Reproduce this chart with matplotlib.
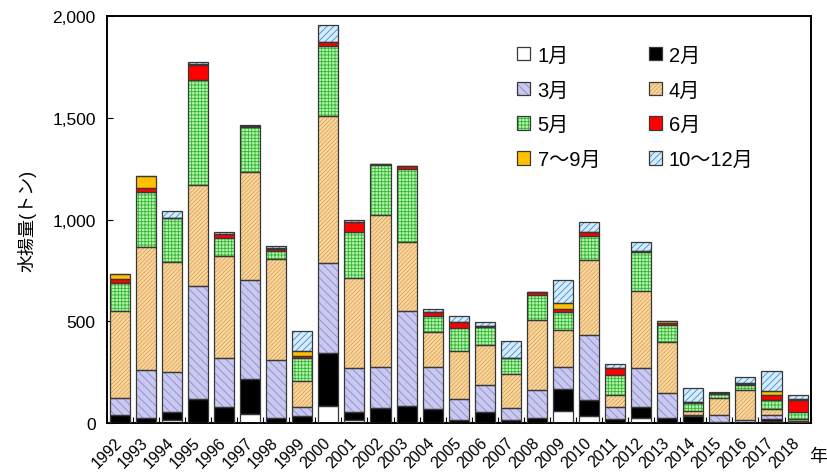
#!/usr/bin/env python3

# 年別・月別の水揚量（積み上げ棒グラフ）

import numpy as np
import matplotlib
matplotlib.use('Agg')
import matplotlib.pyplot as plt
from matplotlib.patches import Patch

plt.rcParams['font.family'] = ['Liberation Sans', 'Noto Sans CJK JP']
plt.rcParams['hatch.linewidth'] = 0.6

years = [str(y) for y in range(1992, 2019)]

jan = [0, 0, 13, 0, 0, 43, 0, 0, 85, 13, 0, 0, 0, 0, 0, 0, 0, 61, 33, 0, 23, 0, 0, 0, 0, 10, 0]
feb = [39, 26, 39, 118, 77, 173, 23, 36, 257, 39, 74, 85, 69, 16, 52, 16, 26, 106, 80, 20, 57, 23, 37, 7, 0, 10, 5]
mar = [84, 236, 197, 557, 241, 488, 287, 44, 444, 218, 200, 464, 205, 102, 135, 56, 138, 110, 319, 60, 190, 124, 3, 34, 15, 19, 5]
apr = [429, 601, 544, 496, 501, 531, 494, 125, 724, 443, 748, 342, 172, 237, 198, 169, 341, 182, 371, 56, 380, 249, 19, 80, 149, 30, 10]
may = [136, 274, 213, 516, 92, 221, 44, 113, 344, 224, 246, 360, 78, 110, 88, 77, 124, 85, 114, 100, 189, 86, 41, 23, 23, 46, 36]
jun = [20, 16, 3, 72, 16, 4, 10, 10, 17, 49, 6, 12, 23, 30, 5, 2, 13, 19, 23, 36, 5, 10, 4, 3, 5, 23, 59]
jul_sep = [24, 59, 0, 5, 4, 0, 3, 26, 0, 4, 0, 2, 0, 0, 0, 0, 0, 25, 0, 0, 0, 9, 0, 0, 5, 21, 3]
oct_dec = [0, 0, 34, 12, 9, 4, 7, 98, 88, 9, 0, 0, 13, 29, 17, 81, 0, 115, 49, 20, 47, 0, 69, 4, 29, 98, 20]

labels = ['1月', '2月', '3月', '4月', '5月', '6月', '7～9月', '10～12月']
series = [jan, feb, mar, apr, may, jun, jul_sep, oct_dec]
# (塗り色, ハッチ色, ハッチ)
styles = [
    ('#ffffff', '#ffffff', None),
    ('#000000', '#000000', None),
    ('#c8c8f0', '#8c8cc8', '\\\\\\\\'),
    ('#fad69c', '#d9a45c', '////////'),
    ('#b4f4ac', '#34b434', '+++++'),
    ('#ff0000', '#ff0000', None),
    ('#ffc000', '#ffc000', None),
    ('#d6ecfa', '#3b8ed2', '/////'),
]
outline = '#383838'

fig = plt.figure(figsize=(8.28, 4.77), dpi=100)
ax = fig.add_axes([0.129, 0.111, 0.850, 0.853])

x = np.arange(len(years))
w = 0.77
bottom = np.zeros(len(years))
handles = []
for vals, (fc, hc, hatch), lab in zip(series, styles, labels):
    vals = np.array(vals, dtype=float)
    ax.bar(x, vals, w, bottom=bottom, color=fc, edgecolor=hc, hatch=hatch,
           linewidth=0, zorder=2)
    ax.bar(x, vals, w, bottom=bottom, fill=False, edgecolor=outline,
           linewidth=0.9, zorder=3)
    bottom += vals
    handles.append((Patch(facecolor=fc, edgecolor=hc, hatch=hatch, linewidth=0),
                    Patch(fill=False, edgecolor=outline, linewidth=0.9)))

ax.set_xlim(-0.5, len(years) - 0.5)
ax.set_ylim(0, 2000)
ax.set_yticks([0, 500, 1000, 1500, 2000])
ax.set_yticklabels(['0', '500', '1,000', '1,500', '2,000'], fontsize=12.5)
ax.set_xticks(x)
ax.set_xticklabels(years, rotation=45, ha='right', va='center',
                   rotation_mode='anchor', fontsize=11.5)
ax.set_xticks(np.arange(-0.5, len(years)), minor=True)
ax.tick_params(axis='x', which='major', length=0, pad=12)
ax.tick_params(axis='x', which='minor', direction='in', length=4, width=0.8)
ax.tick_params(axis='y', direction='in', length=4, width=0.8, pad=8)
for s in ax.spines.values():
    s.set_linewidth(1.4)
ax.set_ylabel('水揚量(トン)', fontsize=13, labelpad=11)
fig.text(0.988, 0.04, '年', fontsize=13, ha='center', va='center')

# 行優先に並べる (1月 2月 / 3月 4月 ...)
order = [0, 2, 4, 6, 1, 3, 5, 7]
ax.legend([handles[i] for i in order], [labels[i] for i in order], ncol=2,
          frameon=False, fontsize=14.5, loc='upper left',
          bbox_to_anchor=(0.603, 0.94), bbox_transform=fig.transFigure,
          handlelength=0.65, handleheight=0.65, handletextpad=0.35,
          labelspacing=0.78, columnspacing=2.4)

fig.savefig('out.png', dpi=100)
